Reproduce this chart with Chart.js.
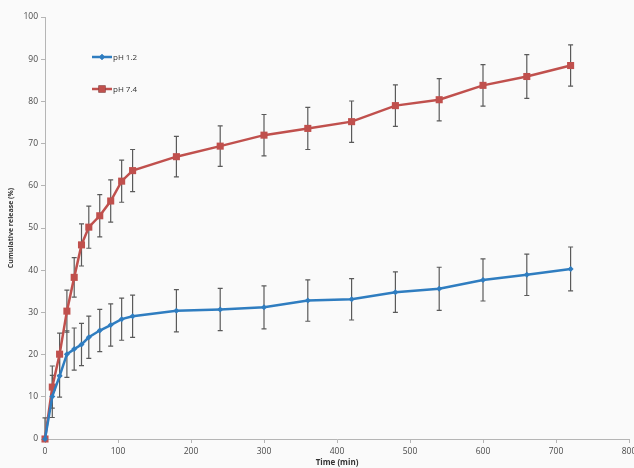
<!DOCTYPE html>
<html>
<head>
<meta charset="utf-8">
<script src="https://cdn.jsdelivr.net/npm/chart.js@4/dist/chart.umd.min.js"></script>
<style>
  html, body { margin: 0; padding: 0; background: #fafafa; }
  canvas { display: block; }
</style>
</head>
<body>
<canvas id="c" width="634" height="468"></canvas>
<script>
// ---- data ----
const timeMin = [0, 10, 20, 30, 40, 50, 60, 75, 90, 105, 120, 180, 240, 300, 360, 420, 480, 540, 600, 660, 720];
const ph12 = [0, 10.1, 14.9, 20.1, 21.3, 22.4, 24.1, 25.7, 27.0, 28.4, 29.1, 30.4, 30.7, 31.2, 32.8, 33.1, 34.8, 35.6, 37.7, 38.9, 40.3];
const ph74 = [0, 12.3, 20.1, 30.3, 38.3, 46.0, 50.2, 52.9, 56.4, 61.1, 63.6, 66.9, 69.4, 72.0, 73.6, 75.2, 79.0, 80.4, 83.8, 85.9, 88.5];
const sd12 = [5, 5, 5, 5.5, 5, 5, 5, 5, 5, 5, 5, 5, 5, 5.1, 4.9, 4.9, 4.8, 5.1, 5, 4.9, 5.2];
const sd74 = [0, 5, 5, 5, 4.7, 5, 5, 5, 5, 5, 5, 4.8, 4.8, 4.9, 5, 4.9, 4.9, 5, 4.9, 5.2, 4.9];
const seriesLabels = ['pH 1.2', 'pH 7.4'];
const xTitle = 'Time (min)';
const yTitle = 'Cumulative release (%)';

const BLUE = '#2f7dc0';
const RED = '#c0504d';
const AXIS = '#b5b5b5';
const TXT = '#4a4a4a';
const FONT = "'Open Sans', 'DejaVu Sans', sans-serif";

const toPts = (ys) => timeMin.map((t, i) => ({ x: t, y: ys[i] }));

const bgPlugin = {
  id: 'bg',
  beforeDraw(chart) {
    const ctx = chart.ctx;
    ctx.save();
    ctx.fillStyle = '#fafafa';
    ctx.fillRect(0, 0, chart.width, chart.height);
    ctx.restore();
  }
};

const errPlugin = {
  id: 'errbars',
  beforeDatasetsDraw(chart) {
    const ctx = chart.ctx;
    const xs = chart.scales.x, ys = chart.scales.y;
    const area = chart.chartArea;
    ctx.save();
    ctx.beginPath();
    ctx.rect(area.left - 4, area.top - 4, area.right - area.left + 8, area.bottom - area.top + 4);
    ctx.clip();
    ctx.strokeStyle = '#5a5a5a';
    ctx.lineWidth = 1.2;
    chart.data.datasets.forEach((ds) => {
      const sd = ds.sd;
      ds.data.forEach((p, i) => {
        if (!sd[i]) return;
        const px = xs.getPixelForValue(p.x);
        const top = ys.getPixelForValue(p.y + sd[i]);
        const bot = ys.getPixelForValue(p.y - sd[i]);
        ctx.beginPath();
        ctx.moveTo(px, top); ctx.lineTo(px, bot);
        ctx.moveTo(px - 2.5, top); ctx.lineTo(px + 2.5, top);
        ctx.moveTo(px - 2.5, bot); ctx.lineTo(px + 2.5, bot);
        ctx.stroke();
      });
    });
    ctx.restore();
  }
};

const legendPlugin = {
  id: 'insideLegend',
  afterDraw(chart) {
    const ctx = chart.ctx;
    const x0 = 92, rows = [57, 89];
    ctx.save();
    chart.data.datasets.forEach((ds, i) => {
      const y = rows[i];
      ctx.strokeStyle = ds.borderColor;
      ctx.lineWidth = 2.5;
      ctx.beginPath();
      ctx.moveTo(x0, y); ctx.lineTo(x0 + 20, y);
      ctx.stroke();
      Chart.helpers.drawPoint(ctx, {
        pointStyle: ds.pointStyle, radius: ds.pointRadius, borderWidth: 0, rotation: 0
      }, x0 + 10, y);
      ctx.fillStyle = ds.pointBackgroundColor;
      ctx.beginPath();
      if (ds.pointStyle === 'rect') {
        const s = Math.SQRT1_2 * ds.pointRadius;
        ctx.rect(x0 + 10 - s, y - s, 2 * s, 2 * s);
      } else {
        const r = ds.pointRadius;
        ctx.moveTo(x0 + 10, y - r); ctx.lineTo(x0 + 10 + r, y);
        ctx.lineTo(x0 + 10, y + r); ctx.lineTo(x0 + 10 - r, y); ctx.closePath();
      }
      ctx.fill();
      ctx.fillStyle = '#333';
      ctx.font = '8px ' + FONT;
      ctx.textBaseline = 'middle';
      ctx.textAlign = 'left';
      ctx.fillText(ds.label, x0 + 21, y + 0.5);
    });
    ctx.restore();
  }
};

new Chart(document.getElementById('c'), {
  type: 'line',
  data: {
    datasets: [
      {
        label: seriesLabels[0], data: toPts(ph12), sd: sd12,
        borderColor: BLUE, backgroundColor: BLUE, pointBackgroundColor: BLUE,
        pointBorderColor: BLUE, borderWidth: 2.5, pointStyle: 'rectRot', pointRadius: 3,
        pointBorderWidth: 0, tension: 0, fill: false
      },
      {
        label: seriesLabels[1], data: toPts(ph74), sd: sd74,
        borderColor: RED, backgroundColor: RED, pointBackgroundColor: RED,
        pointBorderColor: RED, borderWidth: 2.5, pointStyle: 'rect', pointRadius: 5,
        pointBorderWidth: 0, tension: 0, fill: false
      }
    ]
  },
  options: {
    responsive: false,
    animation: false,
    devicePixelRatio: 1,
    clip: false,
    layout: { padding: { top: 17, right: 4, left: 0, bottom: 0 } },
    plugins: { legend: { display: false }, tooltip: { enabled: false } },
    scales: {
      x: {
        type: 'linear', min: 0, max: 800,
        ticks: { stepSize: 100, color: TXT, font: { family: FONT, size: 8.5 }, padding: 3, maxRotation: 0 },
        grid: { display: true, drawOnChartArea: false, drawTicks: true, tickLength: 4, color: AXIS },
        border: { display: true, color: AXIS, width: 1 },
        title: { display: true, text: xTitle, color: '#333', font: { family: FONT, size: 8, weight: 'bold' }, padding: { top: 0, bottom: 0 } },
        afterFit(s) { s.height = 29; s.paddingLeft = 0; s.paddingRight = 0; }
      },
      y: {
        min: 0, max: 100,
        ticks: { stepSize: 10, color: TXT, font: { family: FONT, size: 8.5 }, padding: 3 },
        grid: { display: true, drawOnChartArea: false, drawTicks: true, tickLength: 4, color: AXIS },
        border: { display: true, color: AXIS, width: 1 },
        title: { display: true, text: yTitle, color: '#333', font: { family: FONT, size: 7, weight: 'bold' }, padding: { top: 7, bottom: 0 } },
        afterFit(s) { s.width = 45; s.paddingTop = 0; s.paddingBottom = 0; }
      }
    }
  },
  plugins: [bgPlugin, errPlugin, legendPlugin]
});
</script>
</body>
</html>
